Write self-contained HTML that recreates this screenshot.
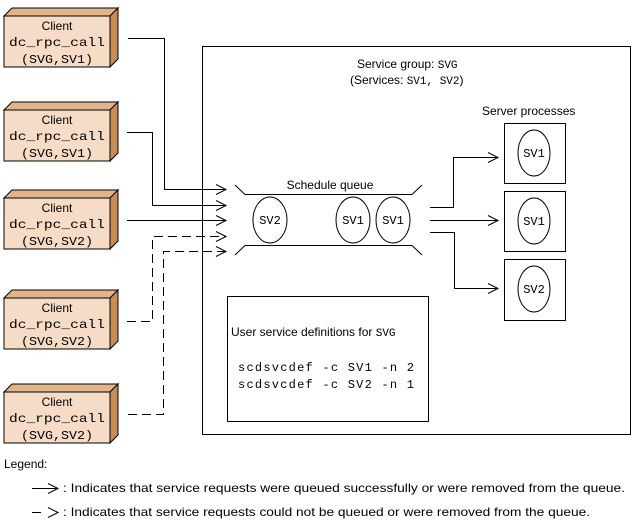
<!DOCTYPE html>
<html><head><meta charset="utf-8"><style>
html,body{margin:0;padding:0;background:#fff;}
svg{display:block;}
.s{font-family:"Liberation Sans",sans-serif;font-size:12px;fill:#000;}
.m{font-family:"Liberation Mono",monospace;font-size:12px;fill:#000;}
</style></head><body>
<svg width="643" height="527" viewBox="0 0 643 527" xmlns="http://www.w3.org/2000/svg">
<defs>
<g id="cl">
<polygon points="4,16 12,8 118,8 110,16" fill="#e2b48c" stroke="#000" stroke-width="1"/>
<polygon points="110,16 118,8 118,59 110,67" fill="#c88c58" stroke="#000" stroke-width="1"/>
<rect x="4" y="16" width="106" height="51" fill="#f6dcc6" stroke="#000" stroke-width="1"/>
<text class="s" x="57" y="30" text-anchor="middle">Client</text>
<text class="m" x="57" y="46" text-anchor="middle" textLength="96" lengthAdjust="spacingAndGlyphs">dc_rpc_call</text>
</g>
<path id="ah" d="M-10,-5 L0,0 L-10,5" fill="none" stroke="#000" stroke-width="1"/>
</defs>
<g fill="none" stroke="#000" stroke-width="1" shape-rendering="crispEdges">
<rect x="202.5" y="46.5" width="428" height="388"/>
<rect x="227.5" y="296.5" width="201" height="125"/>
<rect x="504.5" y="123.5" width="61" height="60"/>
<rect x="504.5" y="191.5" width="61" height="60"/>
<rect x="504.5" y="259.5" width="61" height="61"/>
</g>
<use href="#cl"/><text class="m" x="57" y="63" text-anchor="middle" textLength="72" lengthAdjust="spacingAndGlyphs">(SVG,SV1)</text>
<g transform="translate(0,94)"><use href="#cl"/><text class="m" x="57" y="63" text-anchor="middle" textLength="72" lengthAdjust="spacingAndGlyphs">(SVG,SV1)</text></g>
<g transform="translate(0,182)"><use href="#cl"/><text class="m" x="57" y="63" text-anchor="middle" textLength="72" lengthAdjust="spacingAndGlyphs">(SVG,SV2)</text></g>
<g transform="translate(0,282)"><use href="#cl"/><text class="m" x="57" y="63" text-anchor="middle" textLength="72" lengthAdjust="spacingAndGlyphs">(SVG,SV2)</text></g>
<g transform="translate(0,376)"><use href="#cl"/><text class="m" x="57" y="63" text-anchor="middle" textLength="72" lengthAdjust="spacingAndGlyphs">(SVG,SV2)</text></g>
<g fill="none" stroke="#000" stroke-width="1">
<path d="M128,38.5 H164.5 V189.5 H226"/>
<path d="M127,132.5 H152.5 V205.5 H226"/>
<path d="M127,220.5 H226"/>
<path d="M127,321.5 H152.5 V236.5 H226" stroke-dasharray="9,5"/>
<path d="M128,414.5 H163.5 V251.5 H226" stroke-dasharray="9,5"/>
<path d="M430,207.5 H453.5 V157.5 H498"/>
<path d="M430,220.5 H498"/>
<path d="M430,232.5 H454.5 V288.5 H498"/>
<path d="M235,185 L245,194.5 H412 L422,185"/>
<path d="M235,255 L245,245.5 H412 L422,255"/>
</g>
<use href="#ah" transform="translate(226,189.5)"/>
<use href="#ah" transform="translate(226,205.5)"/>
<use href="#ah" transform="translate(226,220.5)"/>
<use href="#ah" transform="translate(226,236.5)"/>
<use href="#ah" transform="translate(226,251.5)"/>
<use href="#ah" transform="translate(498,157.5)"/>
<use href="#ah" transform="translate(498,220.5)"/>
<use href="#ah" transform="translate(498,288.5)"/>
<g fill="none" stroke="#000" stroke-width="1">
<ellipse cx="270" cy="220" rx="17" ry="23"/>
<ellipse cx="353" cy="220" rx="17" ry="23"/>
<ellipse cx="393" cy="220" rx="17" ry="23"/>
<ellipse cx="534" cy="153" rx="16" ry="23"/>
<ellipse cx="534" cy="221" rx="16" ry="23"/>
<ellipse cx="534" cy="289" rx="16" ry="23"/>
</g>
<g class="m" text-anchor="middle">
<text x="270" y="224">SV2</text><text x="353" y="224">SV1</text><text x="393" y="224">SV1</text>
<text x="534" y="157">SV1</text><text x="534" y="225">SV1</text><text x="534" y="293">SV2</text>
</g>
<text class="s" x="330" y="189" text-anchor="middle">Schedule queue</text>
<text class="s" x="357" y="68">Service group: <tspan font-family="Liberation Mono, monospace" font-size="11">SVG</tspan></text>
<text class="s" x="350" y="84">(Services: <tspan font-family="Liberation Mono, monospace" font-size="11">SV1, SV2</tspan>)</text>
<text class="s" x="482" y="115">Server processes</text>
<text class="s" x="231" y="336">User service definitions for <tspan font-family="Liberation Mono, monospace" font-size="11">SVG</tspan></text>
<text class="m" x="238" y="371" textLength="176" lengthAdjust="spacing">scdsvcdef -c SV1 -n 2</text>
<text class="m" x="238" y="388" textLength="176" lengthAdjust="spacing">scdsvcdef -c SV2 -n 1</text>
<text class="s" x="4" y="468">Legend:</text>
<path d="M32,488.5 H57" stroke="#000" fill="none"/>
<use href="#ah" transform="translate(58,488.5)"/>
<text class="s" x="63" y="492" textLength="562" lengthAdjust="spacingAndGlyphs">: Indicates that service requests were queued successfully or were removed from the queue.</text>
<path d="M32,512.5 H41" stroke="#000" fill="none"/>
<use href="#ah" transform="translate(58,512.5)"/>
<text class="s" x="63" y="516" textLength="527" lengthAdjust="spacingAndGlyphs">: Indicates that service requests could not be queued or were removed from the queue.</text>
</svg>
</body></html>
